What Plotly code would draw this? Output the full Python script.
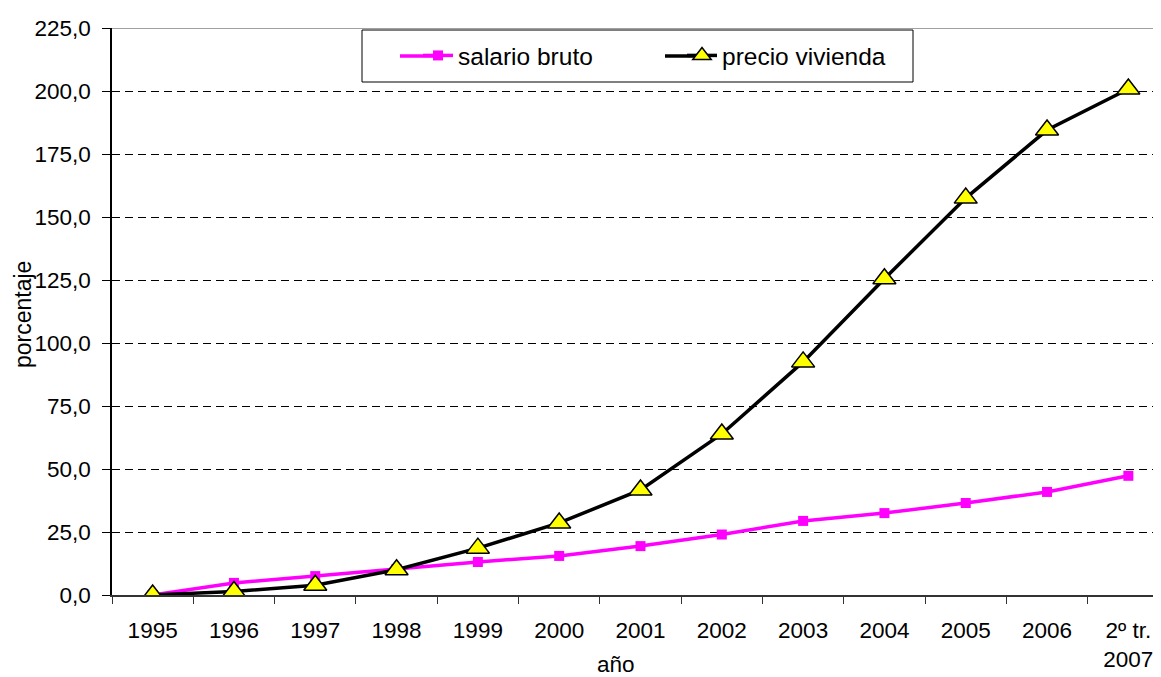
import plotly.graph_objects as go

categories = ["1995", "1996", "1997", "1998", "1999", "2000", "2001",
              "2002", "2003", "2004", "2005", "2006", "2º tr.<br>2007"]
salario_bruto = [0.0, 4.8, 7.5, 10.3, 13.1, 15.5, 19.4, 24.0, 29.4, 32.5, 36.5, 40.9, 47.3]
precio_vivienda = [0.0, 1.4, 3.9, 10.0, 18.6, 28.6, 41.7, 63.9, 92.5, 125.5, 157.5, 184.5, 200.8]
y_ticks = [0, 25, 50, 75, 100, 125, 150, 175, 200, 225]

FONT = "Liberation Sans, Arial, sans-serif"
FS = 22.5
LEG_FS = 24.5

PINK = "#FF00FF"

fig = go.Figure()
fig.add_trace(go.Scatter(
    x=categories, y=salario_bruto, name="salario bruto", mode="lines+markers",
    line=dict(color=PINK, width=3.5),
    marker=dict(symbol="square", size=10, color=PINK),
))
fig.add_trace(go.Scatter(
    x=categories, y=precio_vivienda, name="precio vivienda", mode="lines+markers",
    line=dict(color="#000000", width=3.5),
    marker=dict(symbol="triangle-up", size=20, color="#FFFF00",
                line=dict(color="#000000", width=1.5)),
))

# the page body adds an 8px offset; screen coords = figure coords + 8
OFF = 8
W, H = 1161, 677
L, R, T, B = 104, 0, 20, 90

def px_x(sx):
    return (sx - OFF - L) / (W - L - R)

def px_y(sy):
    return (H - B - (sy - OFF)) / (H - T - B)

# legend box
fig.add_shape(type="rect", xref="paper", yref="paper",
              x0=px_x(362), x1=px_x(913), y0=px_y(82), y1=px_y(30),
              line=dict(color="black", width=1), fillcolor="white", layer="above")
# longer legend line samples (extensions to the left of plotly's samples)
fig.add_shape(type="line", xref="paper", yref="paper",
              x0=px_x(400), x1=px_x(435), y0=px_y(56), y1=px_y(56),
              line=dict(color=PINK, width=3.5), layer="above")
fig.add_shape(type="line", xref="paper", yref="paper",
              x0=px_x(665), x1=px_x(700), y0=px_y(56), y1=px_y(56),
              line=dict(color="black", width=3.5), layer="above")
# top border of plot area
fig.add_shape(type="line", xref="paper", yref="y", x0=0, x1=1, y0=225, y1=225,
              line=dict(color="#808080", width=1.5), layer="below")

fig.add_annotation(text="porcentaje", xref="paper", yref="paper",
                   x=px_x(23), y=px_y(315), textangle=-90, showarrow=False,
                   xanchor="center", yanchor="middle",
                   font=dict(family=FONT, size=23, color="black"))
fig.add_annotation(text="año", xref="paper", yref="paper",
                   x=px_x(616), y=px_y(664), showarrow=False,
                   xanchor="center", yanchor="middle",
                   font=dict(family=FONT, size=FS, color="black"))

fig.update_layout(
    width=W, height=H,
    margin=dict(l=L, r=R, t=T, b=B, pad=0, autoexpand=False),
    paper_bgcolor="white", plot_bgcolor="white",
    font=dict(family=FONT, size=FS, color="black"),
    separators=",.",
    showlegend=True,
    legend=dict(orientation="h", x=px_x(418), y=px_y(33), xanchor="left", yanchor="top",
                bgcolor="rgba(0,0,0,0)", borderwidth=0,
                font=dict(family=FONT, size=LEG_FS, color="black"),
                entrywidth=219, entrywidthmode="pixels"),
    xaxis=dict(
        type="category", range=[-0.5, 12.5], automargin=False,
        showgrid=False, zeroline=False,
        showline=True, linecolor="#333333", linewidth=1.5,
        ticks="outside", tickson="boundaries", ticklen=7, tickcolor="#333333",
        tickwidth=1.2, ticklabelstandoff=14,
        tickfont=dict(family=FONT, size=FS, color="black"),
    ),
    yaxis=dict(
        range=[0, 225], tickvals=y_ticks, tickformat=".1f", automargin=False,
        showgrid=True, gridcolor="black", griddash="8px,5px", gridwidth=1,
        zeroline=False,
        showline=True, linecolor="black", linewidth=1.5,
        ticks="outside", ticklen=8, tickcolor="black", tickwidth=1.2,
        ticklabelstandoff=7,
        tickfont=dict(family=FONT, size=FS, color="black"),
    ),
)

fig.write_html("out.html")
